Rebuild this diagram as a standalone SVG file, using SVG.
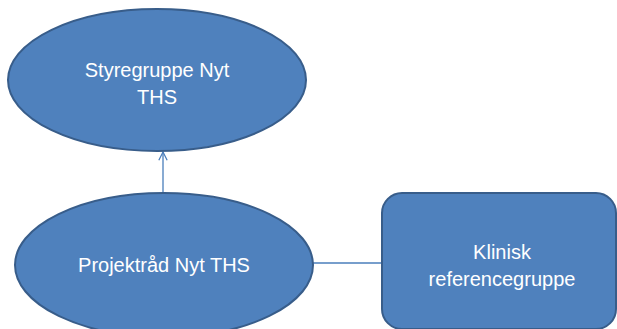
<svg xmlns="http://www.w3.org/2000/svg" width="617" height="329" viewBox="0 0 617 329">
<style>
.node{fill:#4F81BD;stroke:#385D8A;stroke-width:2}
.lbl{font-family:"Liberation Sans",Arial,sans-serif;font-size:20px;fill:#FFFFFF;text-anchor:middle}
.conn{stroke:#4A7EBB;stroke-width:1.3;fill:none}
</style>
<defs>
<marker id="open" viewBox="0 0 12 12" refX="11" refY="6" markerWidth="10" markerHeight="10" markerUnits="userSpaceOnUse" orient="auto">
<path d="M1,1 L11,6 L1,11" fill="none" stroke="#4A7EBB" stroke-width="1.5"/>
</marker>
</defs>
<rect width="617" height="329" fill="#FFFFFF"/>
<g id="connectors">
<line class="conn" x1="163" y1="193" x2="163" y2="152" marker-end="url(#open)"/>
<line class="conn" x1="313" y1="263" x2="382" y2="263"/>
</g>
<g id="styregruppe">
<ellipse class="node" cx="157" cy="80" rx="149" ry="71"/>
<text class="lbl" x="157" y="77">Styregruppe Nyt</text>
<text class="lbl" x="157" y="104">THS</text>
</g>
<g id="projektraad">
<ellipse class="node" cx="164" cy="265" rx="149" ry="72"/>
<text class="lbl" x="164" y="272">Projektråd Nyt THS</text>
</g>
<g id="klinisk">
<rect class="node" x="382" y="193" width="234" height="136" rx="20" ry="20"/>
<text class="lbl" x="502" y="259">Klinisk</text>
<text class="lbl" x="502" y="286">referencegruppe</text>
</g>
</svg>
